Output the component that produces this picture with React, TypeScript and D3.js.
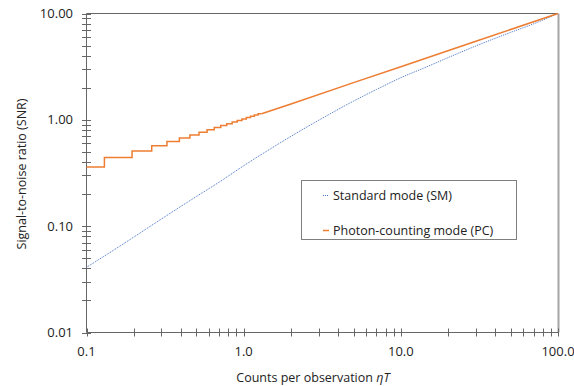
import { useEffect, useRef } from "react";
import * as d3 from "d3";

// Standard mode (SM) values
const smX = [0.1, 0.15, 0.2, 0.3, 0.5, 0.7, 1, 1.5, 2, 3, 5, 7, 10, 15, 20, 30, 50, 70, 100];
const smY = [0.041, 0.06, 0.079, 0.117, 0.19, 0.26, 0.37, 0.54, 0.7, 0.99, 1.5, 1.93, 2.49, 3.2, 3.85, 4.95, 6.65, 8.0, 10.0];

// Photon-counting mode (PC): stepped part (step edges + levels), then smooth part
const pcStepX = [0.1, 0.13, 0.195, 0.26, 0.325, 0.39, 0.455, 0.52, 0.585, 0.65, 0.715, 0.78, 0.845, 0.91, 0.975, 1.04, 1.105, 1.17, 1.235, 1.3];
const pcStepY = [0.361, 0.442, 0.51, 0.57, 0.625, 0.675, 0.721, 0.765, 0.806, 0.846, 0.883, 0.919, 0.954, 0.987, 1.02, 1.051, 1.082, 1.111, 1.14, 1.14];
const pcLineX = [1.3, 2, 5, 10, 30, 100];
const pcLineY = [1.14, 1.41, 2.24, 3.16, 5.48, 10.0];

const xTickValues = [0.1, 1, 10, 100];
const xTickLabels = ["0.1", "1.0", "10.0", "100.0"];
const yTickValues = [0.01, 0.1, 1, 10];
const yTickLabels = ["0.01", "0.10", "1.00", "10.00"];

const seriesNames = ["Standard mode (SM)", "Photon-counting mode (PC)"];
const xTitle = "Counts per observation ";
const yTitle = "Signal-to-noise ratio (SNR)";

const W = 574;
const H = 386;
const FONT = "'Open Sans', sans-serif";

export default function App() {
  const svgRef = useRef<SVGSVGElement>(null);

  useEffect(() => {
    const svg = d3.select(svgRef.current);
    svg.selectAll("*").remove();

    const left = 86.5, right = 558, top = 13.5, bottom = 332.5;

    const x = d3.scaleLog().domain([0.1, 100]).range([left, right]);
    const y = d3.scaleLog().domain([0.01, 10]).range([bottom, top]);

    const axisColor = "#666666";

    // minor + major ticks
    const minors = (lo: number, hi: number) => {
      const out: number[] = [];
      for (let d = lo; d < hi; d *= 10) {
        for (let k = 1; k <= 9; k++) out.push(d * k);
      }
      out.push(hi);
      return out;
    };

    // top border & right border
    svg.append("line")
      .attr("x1", left).attr("x2", right)
      .attr("y1", top).attr("y2", top)
      .attr("stroke", "#666").attr("stroke-width", 1);
    svg.append("line")
      .attr("x1", right + 0.5).attr("x2", right + 0.5)
      .attr("y1", top).attr("y2", bottom)
      .attr("stroke", "#a6a6a6").attr("stroke-width", 2);

    // y axis
    svg.append("line")
      .attr("x1", left).attr("x2", left)
      .attr("y1", top).attr("y2", bottom)
      .attr("stroke", axisColor);
    svg.selectAll(".ytick")
      .data(minors(0.01, 10))
      .join("line")
      .attr("x1", left - 4.5).attr("x2", left + 4.5)
      .attr("y1", (d) => Math.round(y(d)) + 0.5)
      .attr("y2", (d) => Math.round(y(d)) + 0.5)
      .attr("stroke", axisColor);

    // x axis
    svg.append("line")
      .attr("x1", left).attr("x2", right)
      .attr("y1", bottom).attr("y2", bottom)
      .attr("stroke", axisColor);
    svg.selectAll(".xtick")
      .data(minors(0.1, 100))
      .join("line")
      .attr("x1", (d) => Math.round(x(d)) + 0.5)
      .attr("x2", (d) => Math.round(x(d)) + 0.5)
      .attr("y1", bottom - 4).attr("y2", bottom + 4)
      .attr("stroke", axisColor);

    // tick labels
    svg.selectAll(".ylab")
      .data(yTickValues)
      .join("text")
      .attr("x", 73)
      .attr("y", (d) => y(d) + 4.5)
      .attr("text-anchor", "end")
      .attr("font-family", FONT)
      .attr("font-size", 13)
      .attr("fill", "#222")
      .text((_, i) => yTickLabels[i]);

    svg.selectAll(".xlab")
      .data(xTickValues)
      .join("text")
      .attr("x", (d) => x(d))
      .attr("y", 356)
      .attr("text-anchor", "middle")
      .attr("font-family", FONT)
      .attr("font-size", 13)
      .attr("fill", "#222")
      .text((_, i) => xTickLabels[i]);

    // axis titles
    const xt = svg.append("text")
      .attr("x", 313)
      .attr("y", 382)
      .attr("text-anchor", "middle")
      .attr("font-family", FONT)
      .attr("font-size", 12.5)
      .attr("fill", "#222");
    xt.append("tspan").text(xTitle);
    xt.append("tspan").attr("font-style", "italic").text("ηT");

    svg.append("text")
      .attr("transform", `translate(26,174) rotate(-90)`)
      .attr("text-anchor", "middle")
      .attr("font-family", FONT)
      .attr("font-size", 12.5)
      .attr("fill", "#222")
      .text(yTitle);

    // SM series
    const smData = smX.map((v, i) => [v, smY[i]] as [number, number]);
    svg.append("path")
      .datum(smData)
      .attr("fill", "none")
      .attr("stroke", "#4472c4")
      .attr("stroke-width", 1)
      .attr("stroke-dasharray", "1,1")
      .attr("d", d3.line().x((d) => x(d[0])).y((d) => y(d[1])).curve(d3.curveMonotoneX));

    // PC series
    const pcStep = pcStepX.map((v, i) => [v, pcStepY[i]] as [number, number]);
    const pcLine = pcLineX.map((v, i) => [v, pcLineY[i]] as [number, number]);
    svg.append("path")
      .datum(pcStep)
      .attr("fill", "none")
      .attr("stroke", "#ed7d31")
      .attr("stroke-width", 1.5)
      .attr("d", d3.line().x((d) => x(d[0])).y((d) => y(d[1])).curve(d3.curveStepAfter));
    svg.append("path")
      .datum(pcLine)
      .attr("fill", "none")
      .attr("stroke", "#ed7d31")
      .attr("stroke-width", 1.5)
      .attr("d", d3.line().x((d) => x(d[0])).y((d) => y(d[1])));

    // legend
    const lg = svg.append("g");
    lg.append("rect")
      .attr("x", 301.5).attr("y", 180.5)
      .attr("width", 215).attr("height", 59)
      .attr("fill", "white")
      .attr("stroke", "#7f7f7f");
    const items = [
      { name: seriesNames[0], color: "#4472c4", dash: "1,1", w: 1, cy: 195.5 },
      { name: seriesNames[1], color: "#ed7d31", dash: null, w: 1.5, cy: 230.5 },
    ];
    items.forEach((it) => {
      lg.append("line")
        .attr("x1", 323).attr("x2", 329)
        .attr("y1", it.cy).attr("y2", it.cy)
        .attr("stroke", it.color)
        .attr("stroke-width", it.w)
        .attr("stroke-dasharray", it.dash);
      lg.append("text")
        .attr("x", 333)
        .attr("y", it.cy + 4.5)
        .attr("font-family", FONT)
        .attr("font-size", 12.5)
        .attr("fill", "#222")
        .text(it.name);
    });
  }, []);

  return (
    <svg
      ref={svgRef}
      width={W}
      height={H}
      style={{ position: "absolute", left: 0, top: 0, background: "white" }}
    />
  );
}
